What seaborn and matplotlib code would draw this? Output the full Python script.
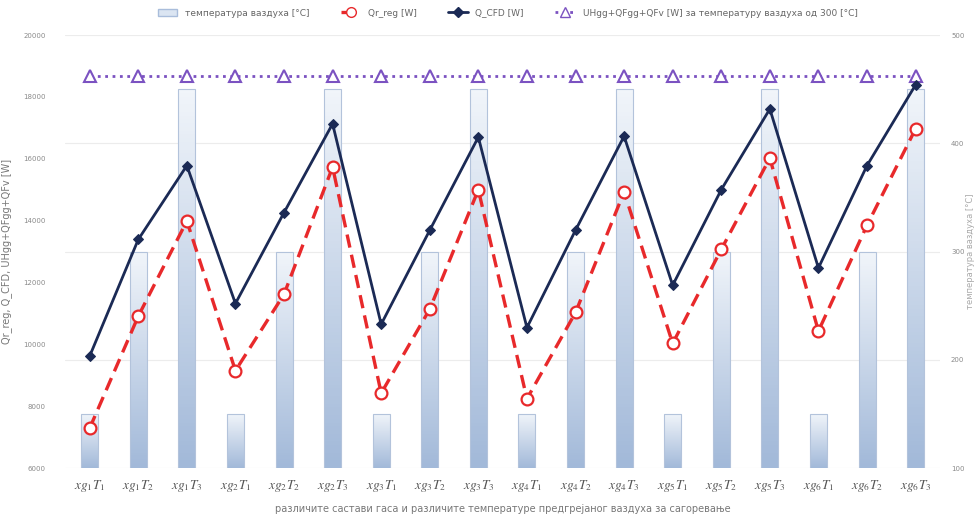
import numpy as np
import pandas as pd
import seaborn as sns
import matplotlib.pyplot as plt
from matplotlib.patches import Patch
from matplotlib.lines import Line2D
from matplotlib.colors import LinearSegmentedColormap

# --- data ---
categories = [f"$xg_{{{g}}}T_{{{t}}}$" for g in range(1, 7) for t in range(1, 4)]
air_temp = [150, 300, 450] * 6  # [°C], right axis
q_cfd = [9620, 13390, 15780, 11320, 14260, 17130,
         10650, 13690, 16700, 10540, 13690, 16730,
         11910, 15000, 17610, 12470, 15780, 18390]
qr_reg = [7290, 10910, 13990, 9150, 11620, 15730,
          8420, 11140, 15000, 8240, 11030, 14930,
          10030, 13070, 16020, 10430, 13850, 16970]
uh_qf = [18690] * 18

df = pd.DataFrame({"cat": categories, "temp": air_temp,
                   "cfd": q_cfd, "reg": qr_reg, "uh": uh_qf})
df["pos"] = np.arange(len(df))

sns.set_style("white")
plt.rcParams["mathtext.fontset"] = "stix"

fig = plt.figure(figsize=(9.76, 5.23), dpi=100)
ax = fig.add_axes([0.067, 0.105, 0.896, 0.828])
ax2 = ax.twinx()

# bars (temperature) on the right axis
sns.barplot(data=df, x="cat", y="temp", ax=ax2, width=0.35,
            color="#c9d7ec", edgecolor="#b3c3db", linewidth=0.8)
ax2.set_ylim(100, 500)
ax2.set_yticks([100, 200, 300, 400, 500])
ax2.grid(axis="y", color="#ececec", linewidth=0.8)
ax2.set_axisbelow(True)

# vertical gradient inside each bar
grad = LinearSegmentedColormap.from_list("g", ["#f1f5fa", "#a2b9d9"])
gimg = np.linspace(0, 1, 100).reshape(-1, 1)
for p in list(ax2.patches):
    x0, w, h = p.get_x(), p.get_width(), p.get_height()
    im = ax2.imshow(gimg, cmap=grad, aspect="auto", origin="upper",
                    extent=[x0, x0 + w, 100, h], zorder=p.get_zorder())
    im.set_clip_path(p)
    p.set_facecolor("none")
    p.set_zorder(p.get_zorder() + 0.1)

# lines on the left axis
sns.lineplot(data=df, x="pos", y="uh", ax=ax, color="#7b52c1", linewidth=2,
             linestyle=":", marker="^", markersize=8.5, markerfacecolor="white",
             markeredgecolor="#7b52c1", markeredgewidth=1.5)
sns.lineplot(data=df, x="pos", y="reg", ax=ax, color="#e8292b", linewidth=2.4,
             linestyle=(0, (4, 2.2)), marker="o", markersize=8.5,
             markerfacecolor="white", markeredgecolor="#e8292b",
             markeredgewidth=1.6)
sns.lineplot(data=df, x="pos", y="cfd", ax=ax, color="#1b2a55", linewidth=2,
             marker="D", markersize=5.5, markerfacecolor="#1b2a55",
             markeredgecolor="#1b2a55")

ax.set_zorder(ax2.get_zorder() + 1)
ax.patch.set_visible(False)
ax.set_ylim(6000, 20000)
ax.set_yticks(range(6000, 20001, 2000))
ax.set_xlim(-0.5, len(df) - 0.5)
ax.set_xticks(df["pos"])
ax.set_xticklabels(categories, fontsize=9.5, color="#555555")
ax.grid(False)

for a in (ax, ax2):
    for s in a.spines.values():
        s.set_visible(False)
    a.tick_params(axis="y", length=0, labelsize=5, labelcolor="#8a8a8a")
ax.tick_params(axis="x", length=0, pad=7)
ax.tick_params(axis="y", pad=14)
ax2.tick_params(axis="y", pad=8)

ax.set_xlabel("различите састави гаса и различите температуре предгрејаног ваздуха за сагоревање",
              fontsize=7, color="#777777", labelpad=7)
ax.set_ylabel("Qr_reg, Q_CFD, UHgg+QFgg+QFv [W]", fontsize=7, color="#777777",
              labelpad=8)
ax2.set_ylabel("температура ваздуха [°C]", fontsize=6, color="#aaaaaa",
               va="center", ha="center")
ax2.yaxis.set_label_coords(1.035, 0.5)

handles = [
    Patch(facecolor="#dbe5f2", edgecolor="#a9bddb"),
    Line2D([], [], color="#e8292b", linewidth=2.4, linestyle=(0, (4, 2.2)),
           marker="o", markersize=7, markerfacecolor="white",
           markeredgecolor="#e8292b"),
    Line2D([], [], color="#1b2a55", linewidth=2, marker="D", markersize=5),
    Line2D([], [], color="#7b52c1", linewidth=2, linestyle=":", marker="^",
           markersize=7, markerfacecolor="white", markeredgecolor="#7b52c1"),
]
labels = ["температура ваздуха [°C]", "Qr_reg [W]", "Q_CFD [W]",
          "UHgg+QFgg+QFv [W] за температуру ваздуха од 300 [°C]"]
fig.legend(handles, labels, loc="center", bbox_to_anchor=(0.52, 0.975), ncol=4,
           frameon=False, fontsize=6.5, labelcolor="#666666",
           handlelength=2.2, columnspacing=3.5)

fig.savefig("out.png", dpi=100)
